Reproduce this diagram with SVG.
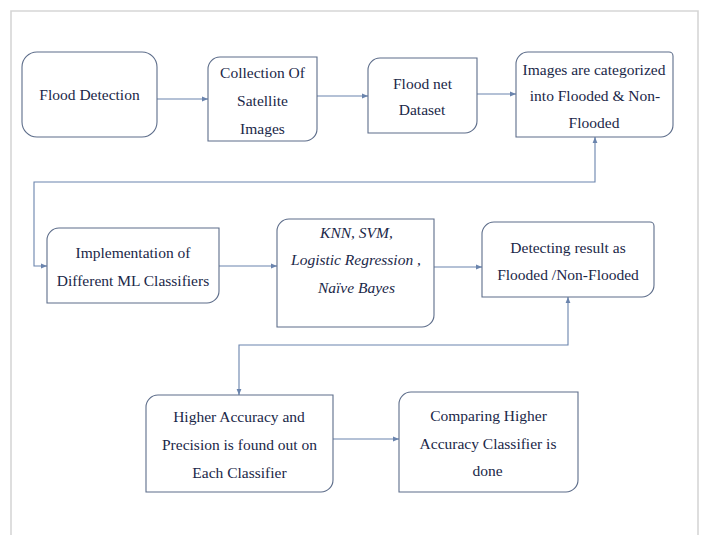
<svg xmlns="http://www.w3.org/2000/svg" width="703" height="535" viewBox="0 0 703 535">
  <style>
    .box { fill: #ffffff; stroke: #5d6d8a; stroke-width: 1.1; }
    .lbl { font-family: Liberation Serif, serif; font-size: 15.5px; fill: #1a2748; text-anchor: middle; }
    .it { font-style: italic; }
    .conn { fill: none; stroke: #6a84ad; stroke-width: 1.1; }
    .frame { fill: none; stroke: #d6d6d6; stroke-width: 1.6; }
  </style>
  <defs>
    <marker id="arr" viewBox="0 0 6 6" refX="6" refY="3" markerWidth="6" markerHeight="6" markerUnits="userSpaceOnUse" orient="auto-start-reverse">
      <path d="M0,0.6 L6,3 L0,5.4 Z" fill="#6a84ad"/>
    </marker>
  </defs>
  <rect width="703" height="535" fill="#ffffff"/>
  <path class="frame" d="M11,540 V11 H698 V540"/>

  <g id="connectors">
    <path class="conn" d="M157,99 H208" marker-end="url(#arr)"/>
    <path class="conn" d="M317,96 H368" marker-end="url(#arr)"/>
    <path class="conn" d="M477,94 H516" marker-end="url(#arr)"/>
    <path class="conn" d="M595,137 V182 H34 V266 H47" marker-start="url(#arr)" marker-end="url(#arr)"/>
    <path class="conn" d="M219,266 H277" marker-end="url(#arr)"/>
    <path class="conn" d="M434,267 H482" marker-end="url(#arr)"/>
    <path class="conn" d="M568,297 V345 H239 V395" marker-start="url(#arr)" marker-end="url(#arr)"/>
    <path class="conn" d="M333,439 H399" marker-end="url(#arr)"/>
  </g>

  <g id="nodes" font-family="Liberation Serif, serif">
  <g id="n1">
    <rect class="box" x="22" y="52" width="135" height="85" rx="15"/>
    <text class="lbl" x="89.5" y="100">Flood Detection</text>
  </g>
  <g id="n2">
    <path class="box" d="M220,57 H317 V129 A12,12 0 0 1 305,141 H208 V69 A12,12 0 0 1 220,57 Z"/>
    <text class="lbl" x="262.5" y="78">Collection Of</text>
    <text class="lbl" x="262.5" y="106">Satellite</text>
    <text class="lbl" x="262.5" y="134">Images</text>
  </g>
  <g id="n3">
    <path class="box" d="M380,58 H477 V121 A12,12 0 0 1 465,133 H368 V70 A12,12 0 0 1 380,58 Z"/>
    <text class="lbl" x="422.5" y="89">Flood net</text>
    <text class="lbl" x="422" y="115">Dataset</text>
  </g>
  <g id="n4">
    <path class="box" d="M528,52 H669 A4,4 0 0 1 673,56 V125 A12,12 0 0 1 661,137 H516 V64 A12,12 0 0 1 528,52 Z"/>
    <text class="lbl" x="594" y="75">Images are categorized</text>
    <text class="lbl" x="595" y="101">into Flooded &amp; Non-</text>
    <text class="lbl" x="594" y="128">Flooded</text>
  </g>
  <g id="n5">
    <path class="box" d="M59,228 H219 V291 A12,12 0 0 1 207,303 H47 V240 A12,12 0 0 1 59,228 Z"/>
    <text class="lbl" x="133" y="258">Implementation of</text>
    <text class="lbl" x="133" y="286">Different ML Classifiers</text>
  </g>
  <g id="n6">
    <path class="box" d="M289,219 H434 V315 A12,12 0 0 1 422,327 H277 V231 A12,12 0 0 1 289,219 Z"/>
    <text class="lbl it" x="356.5" y="238">KNN, SVM,</text>
    <text class="lbl it" x="356" y="265">Logistic Regression ,</text>
    <text class="lbl it" x="356.5" y="293">Naïve Bayes</text>
  </g>
  <g id="n7">
    <path class="box" d="M494,222 H650 A4,4 0 0 1 654,226 V285 A12,12 0 0 1 642,297 H482 V234 A12,12 0 0 1 494,222 Z"/>
    <text class="lbl" x="568" y="253">Detecting result as</text>
    <text class="lbl" x="568" y="280">Flooded /Non-Flooded</text>
  </g>
  <g id="n8">
    <path class="box" d="M158,395 H333 V480 A12,12 0 0 1 321,492 H146 V407 A12,12 0 0 1 158,395 Z"/>
    <text class="lbl" x="239" y="422">Higher Accuracy and</text>
    <text class="lbl" x="239.5" y="450">Precision is found out on</text>
    <text class="lbl" x="239.5" y="478">Each Classifier</text>
  </g>
  <g id="n9">
    <path class="box" d="M411,392 H578 V480 A12,12 0 0 1 566,492 H399 V404 A12,12 0 0 1 411,392 Z"/>
    <text class="lbl" x="488.5" y="421">Comparing Higher</text>
    <text class="lbl" x="488" y="449">Accuracy Classifier is</text>
    <text class="lbl" x="487.5" y="476">done</text>
  </g>
  </g>
</svg>
